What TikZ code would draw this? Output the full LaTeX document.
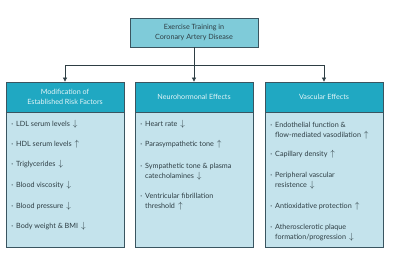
\documentclass[tikz,border=0pt]{standalone}
\usepackage{fontspec}
\setmainfont{Lato}
\usetikzlibrary{arrows.meta}
\definecolor{topfill}{HTML}{7FCBD9}
\definecolor{headfill}{HTML}{20A8C2}
\definecolor{bodyfill}{HTML}{C4E3EC}
\definecolor{edge}{HTML}{3A5560}
\definecolor{txt}{HTML}{2E3E44}
\newcommand{\dn}{\hspace{3pt}{\fontsize{9.5}{10}\selectfont$\downarrow$}}
\newcommand{\up}{\hspace{3pt}{\fontsize{9.5}{10}\selectfont$\uparrow$}}
\newcommand{\bl}{\llap{\textperiodcentered\hspace{3pt}}}
\tikzset{
  topbox/.style={draw=edge, line width=0.8pt, fill=topfill, minimum width=128pt, minimum height=29pt, inner sep=0pt, align=center, text=txt, font=\fontsize{7.2}{10}\selectfont},
  headbox/.style={draw=edge, line width=0.8pt, fill=headfill, minimum width=118pt, minimum height=30pt, inner sep=0pt, align=center, text=white!88!headfill, font=\fontsize{7.2}{10}\selectfont},
  bodybox/.style={draw=edge, line width=0.8pt, fill=bodyfill, minimum width=118pt, minimum height=135pt, inner sep=0pt},
  item/.style={anchor=base west, inner sep=0pt, align=left, text=txt, font=\fontsize{7.2}{10}\selectfont},
  item2/.style={item, anchor=north west},
  conn/.style={draw=txt, line width=0.7pt},
  arr/.style={conn, -{Triangle[length=4pt,width=4pt]}}
}
\begin{document}
\begin{tikzpicture}[x=1pt,y=1pt]
\useasboundingbox (0,0) rectangle (400,262);
\node[topbox] (top) at (194,229.5) {Exercise Training in\\Coronary Artery Disease};
\node[bodybox] (b1) at (65,82.5) {};
\node[bodybox] (b2) at (194,82.5) {};
\node[bodybox] (b3) at (324,82.5) {};
\node[headbox] (h1) at (65,165) {Modification of\\Established Risk Factors};
\node[headbox] (h2) at (194,165) {Neurohormonal Effects};
\node[headbox] (h3) at (324,165) {Vascular Effects};
\coordinate (j) at (194,197);
\draw[conn] (top.south) -- (j);
\draw[arr] (j) -| (h1.north);
\draw[arr] (j) -- (h2.north);
\draw[arr] (j) -| (h3.north);
% left column
\node[item] (l1) at (16,135) {\bl LDL serum levels\dn};
\node[item] (l2) at (16,115) {\bl HDL serum levels\up};
\node[item] (l3) at (16,95) {\bl Triglycerides\dn};
\node[item] (l4) at (16,74) {\bl Blood viscosity\dn};
\node[item] (l5) at (16,53) {\bl Blood pressure\dn};
\node[item] (l6) at (16,33) {\bl Body weight \& BMI\dn};
% middle column
\node[item] (m1) at (145,135) {\bl Heart rate\dn};
\node[item] (m2) at (145,115) {\bl Parasympathetic tone\up};
\node[item2] (m3) at (145,99.2) {\bl Sympathetic tone \& plasma\\catecholamines\dn};
\node[item2] (m4) at (145,69.2) {\bl Ventricular fibrillation\\threshold\up};
% right column
\node[item2] (r1) at (275,140.2) {\bl Endothelial function \&\\flow-mediated vasodilation\up};
\node[item] (r2) at (275,105) {\bl Capillary density\up};
\node[item2] (r3) at (275,90.2) {\bl Peripheral vascular\\resistence\dn};
\node[item] (r4) at (275,53) {\bl Antioxidative protection\up};
\node[item2] (r5) at (275,38.2) {\bl Atherosclerotic plaque\\formation/progression\dn};
\end{tikzpicture}
\end{document}
